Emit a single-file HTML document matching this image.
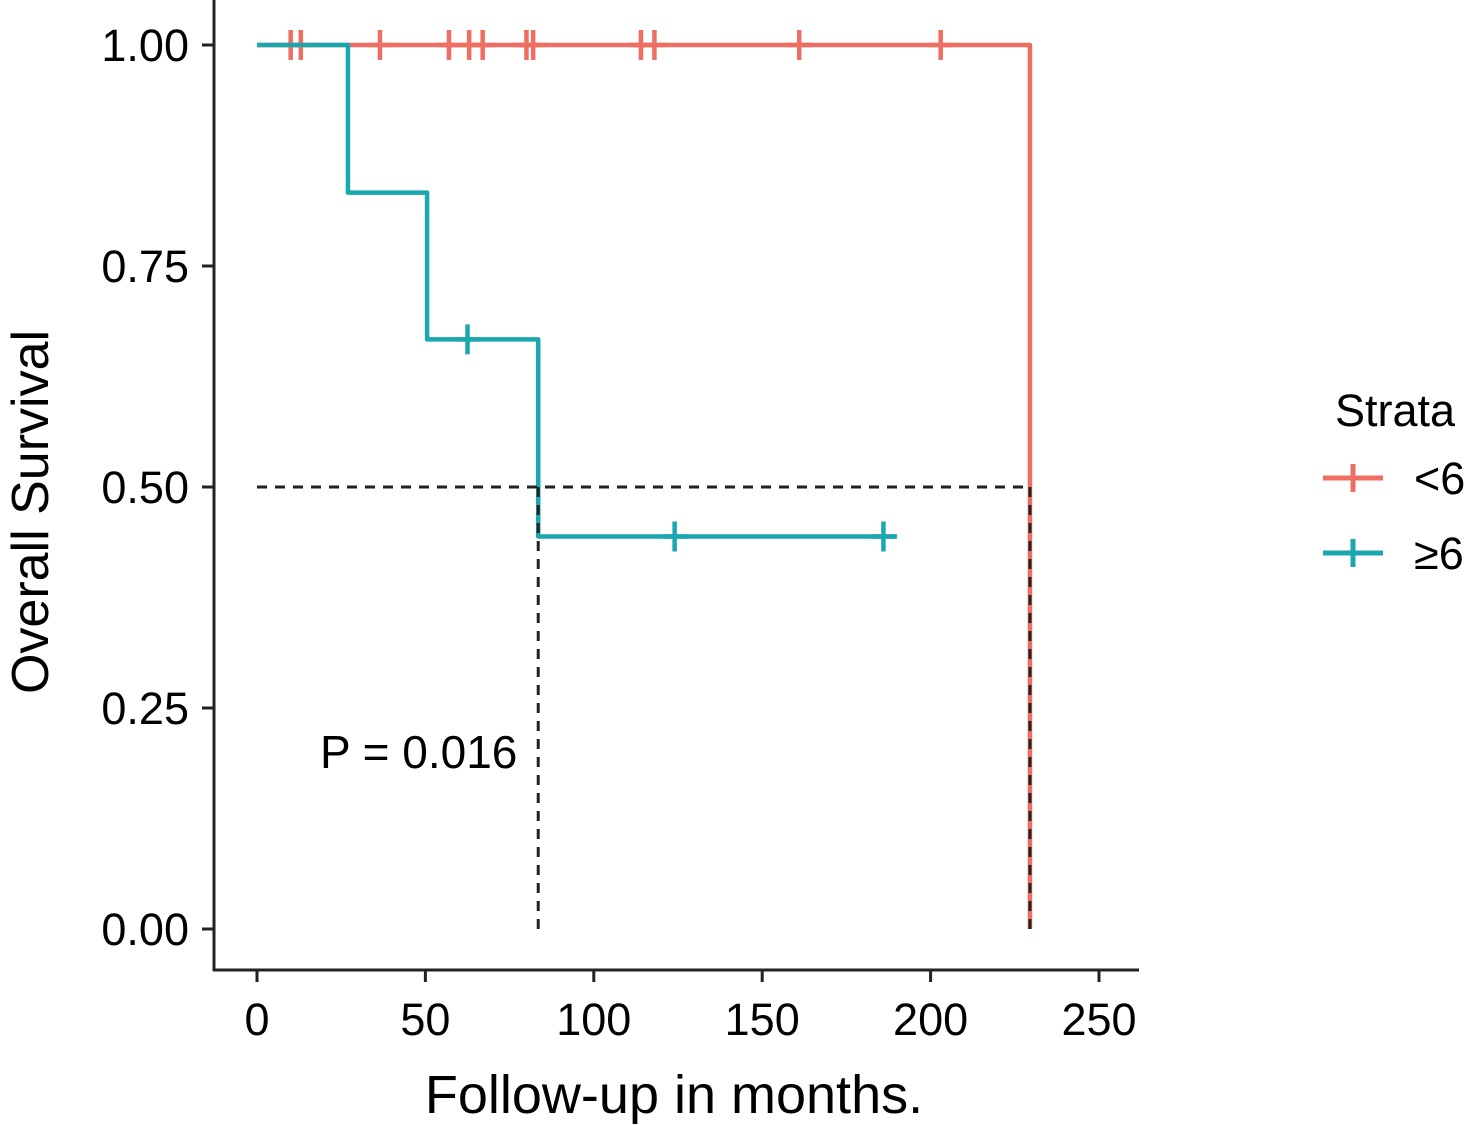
<!DOCTYPE html>
<html><head><meta charset="utf-8"><style>
html,body{margin:0;padding:0;background:#fff;width:1470px;height:1125px;overflow:hidden}
text{font-family:"Liberation Sans",Arial,sans-serif;fill:#000}
</style></head><body>
<svg id="chart" width="1470" height="1125" xmlns="http://www.w3.org/2000/svg"></svg>
<script>
const xTicks=[0,50,100,150,200,250];
const yTicks=[0,0.25,0.5,0.75,1.0];
const yTickLabels=["0.00","0.25","0.50","0.75","1.00"];
const redTimes=[0,229.5];
const redSurv=[1.0,0.0];
const redEnd=229.5;
const redCensor=[10,13,36.5,57,63,67,80,82,114,118,161,203];
const tealTimes=[0,27,50.5,83.5];
const tealSurv=[1.0,0.833,0.667,0.444];
const tealEnd=190;
const tealCensor=[62.5,124,186];
const medians=[83.5,229.5];
const pLabel="P = 0.016";

const X=v=>257+v*(1099-257)/250;
const Y=v=>929-v*(929-45);
const svg=document.getElementById('chart');
const NS="http://www.w3.org/2000/svg";
function mk(tag,attrs,parent){const e=document.createElementNS(NS,tag);for(const k in attrs)e.setAttribute(k,attrs[k]);(parent||svg).appendChild(e);return e;}

let g=mk('g',{});


let ax=mk('line',{x1:214,y1:0,x2:214,y2:971,stroke:'#222','stroke-width':3},g);


ax=mk('line',{x1:213,y1:970,x2:1139,y2:970,stroke:'#222','stroke-width':3},g);


xTicks.forEach(t=>{
  const l=mk('line',{x1:X(t),y1:970,x2:X(t),y2:982,stroke:'#222','stroke-width':3},g);
  
  
  const tx=mk('text',{x:X(t),y:1035,'font-size':45,'text-anchor':'middle'},g);tx.textContent=t;
  
  
});
yTicks.forEach((t,i)=>{
  const l=mk('line',{x1:202,y1:Y(t),x2:214,y2:Y(t),stroke:'#222','stroke-width':3},g);
  
  
  const tx=mk('text',{x:189,y:Y(t)+16,'font-size':45,'text-anchor':'end'},g);tx.textContent=yTickLabels[i];
  
  
});
let t=mk('text',{x:674,y:1113,'font-size':54,'text-anchor':'middle'});t.textContent="Follow-up in months.";


t=mk('text',{x:0,y:0,'font-size':52,'text-anchor':'middle',transform:'translate(48,512) rotate(-90)'});t.textContent="Overall Survival";



function curve(times,surv,end,censor,color,name){
  let d=`M${X(times[0])},${Y(surv[0])}`;
  for(let i=1;i<times.length;i++){d+=` H${X(times[i])} V${Y(surv[i])}`;}
  d+=` H${X(end)}`;
  const p=mk('path',{d:d,stroke:color,'stroke-width':4.5,fill:'none','stroke-linejoin':'round'});
  
  
  censor.forEach(c=>{
    let s=surv[0];for(let i=0;i<times.length;i++){if(times[i]<=c)s=surv[i];}
    const m=mk('path',{d:`M${X(c)},${Y(s)-15} V${Y(s)+15} M${X(c)-13},${Y(s)} H${X(c)+13}`,stroke:color,'stroke-width':4.5});
    
    
  });
}
curve(redTimes,redSurv,redEnd,redCensor,'#EE6F62','group-lt6');
curve(tealTimes,tealSurv,tealEnd,tealCensor,'#1BA7B0','group-ge6');

let d=`M${X(0)},${Y(0.5)} H${X(medians[1])}`;
medians.forEach(m=>{d+=` M${X(m)},${Y(0.5)} V${Y(0)}`;});
let p=mk('path',{d:d,stroke:'#222','stroke-width':3,'stroke-dasharray':'10,8',fill:'none'});



t=mk('text',{x:320,y:768,'font-size':46});t.textContent=pLabel;



t=mk('text',{x:1335,y:426,'font-size':45});t.textContent="Strata";


[['#EE6F62','<6',478,'legend-entry-lt6'],['#1BA7B0','\u22656',553,'legend-entry-ge6']].forEach(([c,l,y,n])=>{
  const gg=mk('g',{});
  
  
  mk('path',{d:`M1323,${y} H1383 M1353,${y-14} V${y+14}`,stroke:c,'stroke-width':5},gg);
  const tx=mk('text',{x:1414,y:y+16,'font-size':45},gg);tx.textContent=l;
});
</script>
</body></html>
